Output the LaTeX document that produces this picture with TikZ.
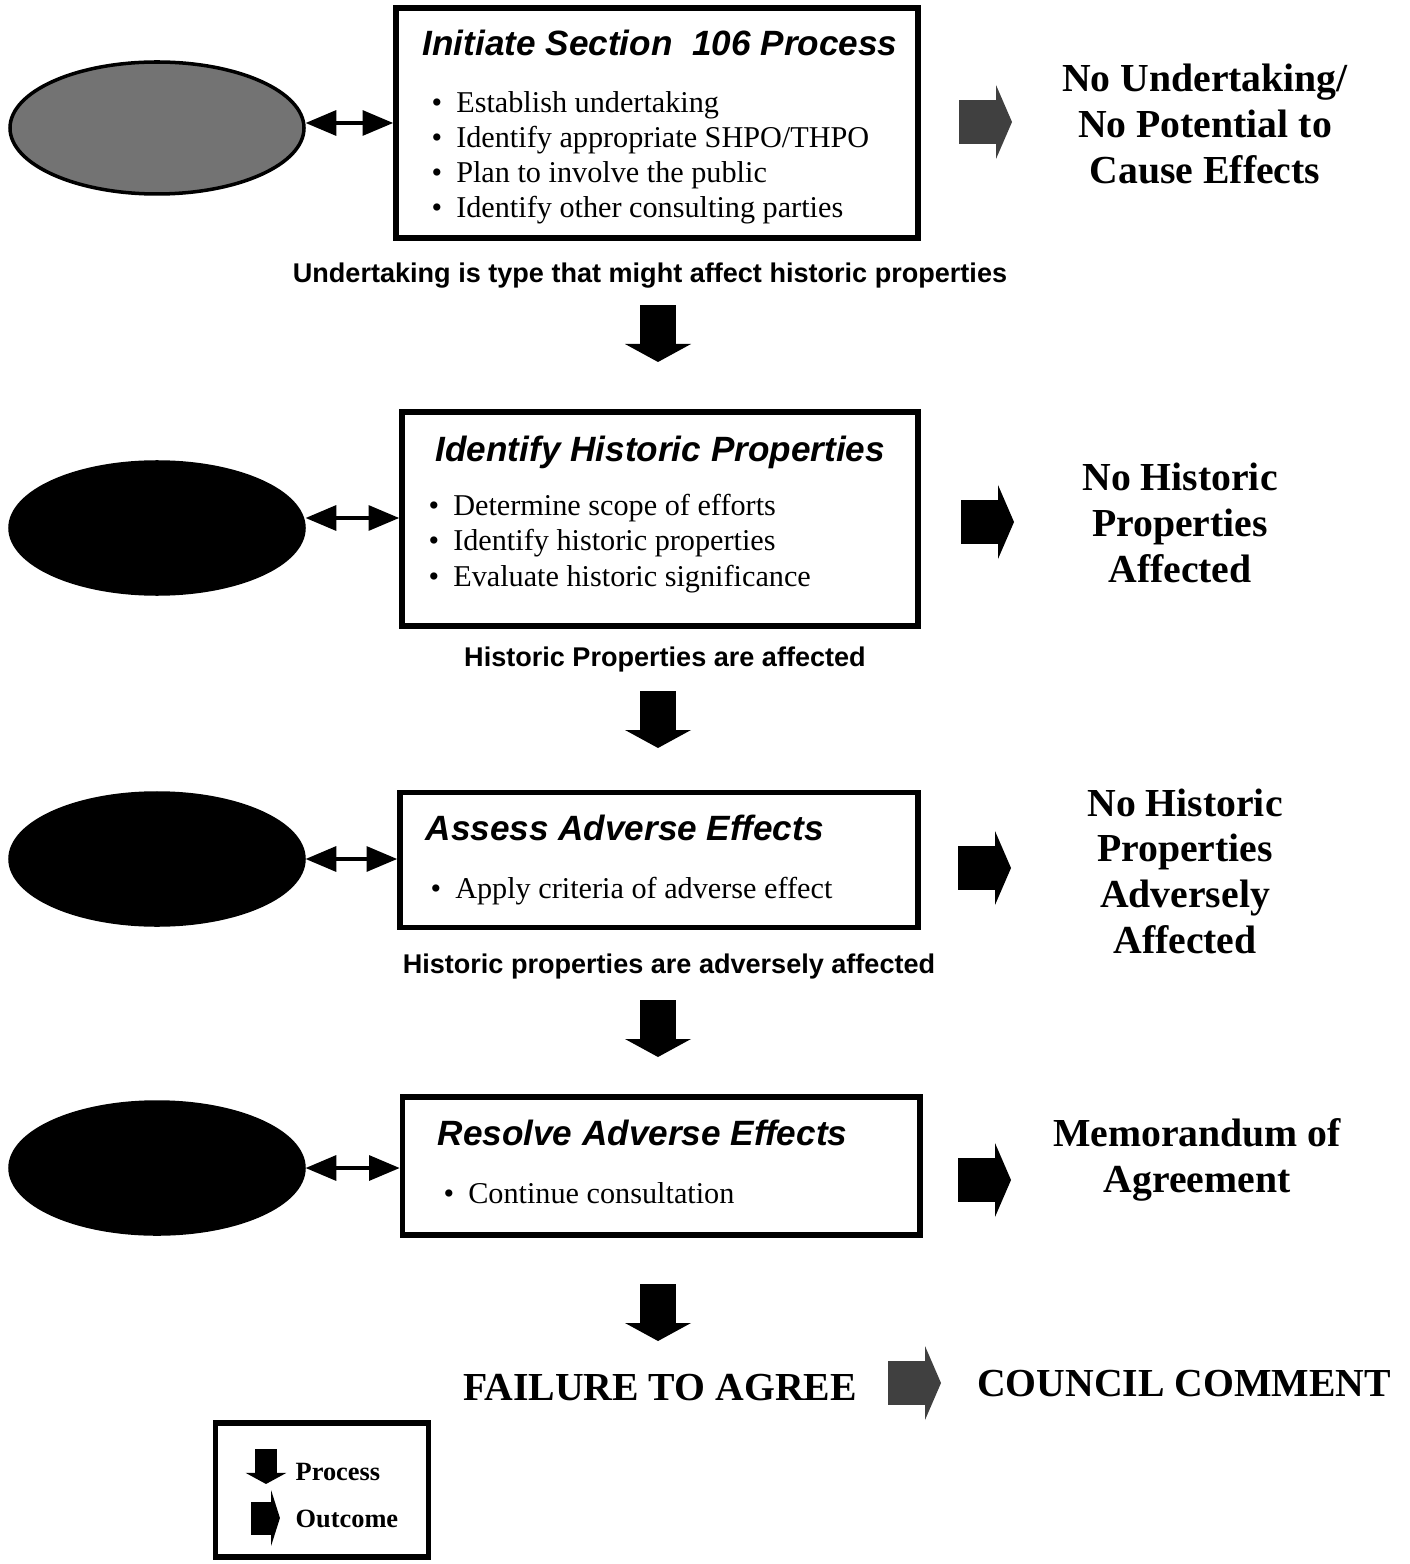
\documentclass[tikz,border=0pt]{standalone}
\usepackage{fontspec}
\setmainfont{Liberation Serif}
\setsansfont{Liberation Sans}
\usetikzlibrary{arrows,shapes.geometric,positioning}
\tikzset{stage/.style={draw,line width=1.7pt,inner sep=0pt}}
\tikzset{party/.style={ellipse,draw,fill,line width=1pt,minimum width=29.4mm,minimum height=13.2mm,inner sep=0pt}}
\tikzset{link/.style={triangle 45-triangle 45,line width=1pt}}
\tikzset{heading/.style={anchor=base west,inner sep=0pt,font=\sffamily\bfseries\itshape\fontsize{10}{12}\selectfont}}
\tikzset{steps/.style={anchor=base west,inner sep=0pt,align=left,font=\fontsize{8.6}{10}\selectfont}}
\tikzset{result/.style={align=center,inner sep=0pt,font=\bfseries\fontsize{11.3}{13}\selectfont}}
\tikzset{gate/.style={inner sep=0pt,font=\sffamily\bfseries\fontsize{7.7}{9}\selectfont}}
\tikzset{keytext/.style={anchor=base west,inner sep=0pt,font=\bfseries\fontsize{7.5}{9}\selectfont}}
\tikzset{procarrow/.pic={\fill (-18,-28) rectangle (18,12); \fill (-33,11) -- (33,11) -- (0,29) -- cycle;}}
\tikzset{outarrow/.pic={\fill (-24,-22) rectangle (14,22); \fill (13,-37) -- (29,0) -- (13,37) -- cycle;}}
\newcommand{\bul}{\textbullet\hspace{1.4mm}}

\begin{document}
\begin{tikzpicture}[x=0.1mm,y=-0.1mm]
    \useasboundingbox (0,0) rectangle (1409,1564);
    \node [stage,minimum width=52.2mm,minimum height=23mm] (b1) at (657,123) {};
    \node [stage,minimum width=51.6mm,minimum height=21.4mm] (b2) at (660,519) {};
    \node [stage,minimum width=51.8mm,minimum height=13.5mm] (b3) at (659,860) {};
    \node [stage,minimum width=51.7mm,minimum height=13.8mm] (b4) at (661,1166) {};
    \node [heading] (t1) at (422,56) {Initiate Section\ \ 106 Process};
    \node [heading] (t2) at (435,462) {Identify Historic Properties};
    \node [heading] (t3) at (425,840) {Assess Adverse Effects};
    \node [heading] (t4) at (437,1145) {Resolve Adverse Effects};
    \node [steps] (s1) at (431,218) {\bul Establish undertaking\\\bul Identify appropriate SHPO/THPO\\\bul Plan to involve the public\\\bul Identify other consulting parties};
    \node [steps] (s2) at (428,586) {\bul Determine scope of efforts\\\bul Identify historic properties\\\bul Evaluate historic significance};
    \node [steps] (s3) at (430,898) {\bul Apply criteria of adverse effect};
    \node [steps] (s4) at (443,1203) {\bul Continue consultation};
    \node [party,fill=black!55] (e1) at (157,128) {};
    \node [party] (e2) at (157,528) {};
    \node [party] (e3) at (157,859) {};
    \node [party] (e4) at (157,1168) {};
    \draw [link] (e1.east |- b1.west) -- (b1.west);
    \draw [link] (e2.east |- 0,518) -- (b2.west |- 0,518);
    \draw [link] (e3.east) -- (b3.west |- e3.east);
    \draw [link] (e4.east) -- (b4.west |- e4.east);
    \pic [color=black!75] at (983,122) {outarrow};
    \pic at (985,522) {outarrow};
    \pic at (982,868) {outarrow};
    \pic at (982,1180) {outarrow};
    \node [result] (r1) at (1205,124) {No Undertaking/\\No Potential to\\Cause Effects};
    \node [result] (r2) at (1180,523) {No Historic\\Properties\\Affected};
    \node [result] (r3) at (1185,871) {No Historic\\Properties\\Adversely\\Affected};
    \node [result] (r4) at (1197,1160) {Memorandum of\\Agreement};
    \node [gate] (g1) at (650,276) {Undertaking is type that might affect historic properties};
    \node [gate] (g2) at (665,660) {Historic Properties are affected};
    \node [gate] (g3) at (669,966) {Historic properties are adversely affected};
    \pic at (658,333) {procarrow};
    \pic at (658,719) {procarrow};
    \pic at (658,1028) {procarrow};
    \pic at (658,1312) {procarrow};
    \node [result] (fail) at (660,1388) {FAILURE TO AGREE};
    \pic [color=black!75] at (912,1383) {outarrow};
    \node [result] (council) at (1184,1384) {COUNCIL COMMENT};
    \node [stage,minimum width=21.3mm,minimum height=13.4mm] (key) at (322,1490) {};
    \pic [scale=0.62] at (266,1466) {procarrow};
    \pic [xscale=0.55,yscale=0.75] at (264,1518) {outarrow};
    \node [keytext] (k1) at (295,1480) {Process};
    \node [keytext] (k2) at (295,1527) {Outcome};
\end{tikzpicture}
\end{document}
